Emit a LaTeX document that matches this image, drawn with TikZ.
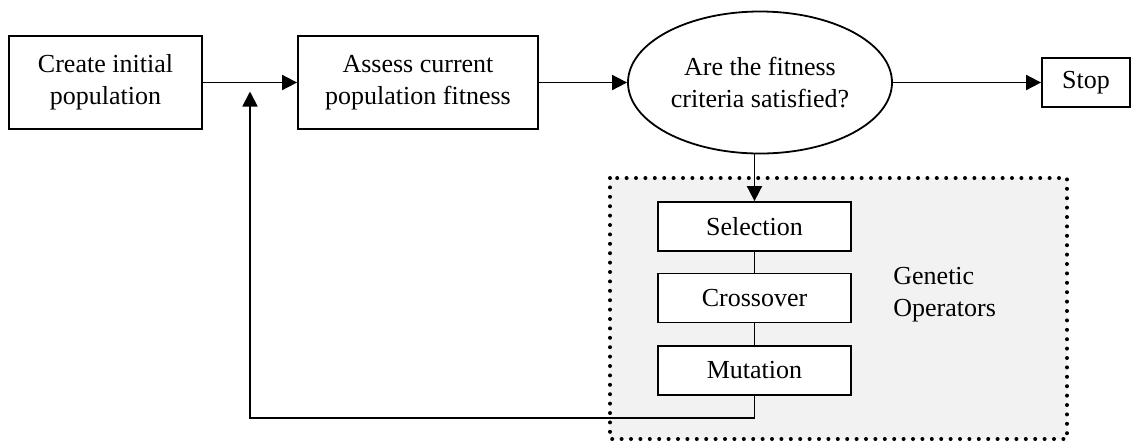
\documentclass[tikz,border=0pt]{standalone}
\usepackage{fontspec}
\setmainfont{Liberation Serif}
\usetikzlibrary{shapes.geometric,arrows.meta,positioning}

\tikzset{
  box/.style={draw, fill=white, line width=0.9pt, align=center, inner sep=0pt},
  decision/.style={draw, ellipse, line width=0.9pt, align=center, inner sep=0pt},
  arr/.style={-{Triangle[length=7.5pt,width=7.5pt]}, line width=0.9pt},
  link/.style={line width=0.9pt},
  opsarea/.style={fill=black!5, line width=2pt, line cap=round, dash pattern=on 0pt off 4.7pt},
}

\begin{document}
\begin{tikzpicture}[x=0.5pt,y=-0.5pt,font=\fontsize{13}{16}\selectfont]
\useasboundingbox (0,0) rectangle (1131,441);
\draw[opsarea] (610,178) rectangle (1067,439); % Genetic operators area
\node[box, minimum width=96.5pt, minimum height=46.5pt] (create) at (105.5,82.5) {Create initial\\population};
\node[box, minimum width=120pt, minimum height=46.5pt] (assess) at (418,82.5) {Assess current\\population fitness};
\node[decision, minimum width=132pt, minimum height=71pt] (check) at (760,82.5) {Are the fitness\\criteria satisfied?};
\node[box, minimum width=44pt, minimum height=24.5pt] (stop) at (1086,82.5) {Stop};
\node[box, minimum width=96.5pt, minimum height=24.5pt] (sel) at (754.5,226.5) {Selection};
\node[box, minimum width=96.5pt, minimum height=24.5pt] (cross) at (754.5,298) {Crossover};
\node[box, minimum width=96.5pt, minimum height=24.5pt] (mut) at (754.5,370.5) {Mutation};
\node[anchor=west, align=left, inner sep=0pt] (ops) at (893,295) {Genetic\\Operators};
\coordinate (join) at (250,82.5); % loop re-entry
\coordinate (corner) at (250,418); % loop corner
\draw[arr] (create) -- (assess);
\draw[arr] (assess) -- (check);
\draw[arr] (check) -- (stop);
\draw[arr] (sel |- check.south) -- (sel.north);
\draw[link] (sel) -- (cross); % Selection to Crossover
\draw[link] (cross) -- (mut); % Crossover to Mutation
\draw[arr, shorten >=4.5pt] (mut.south) |- (corner) -- (join); % back to assessment
\end{tikzpicture}
\end{document}
